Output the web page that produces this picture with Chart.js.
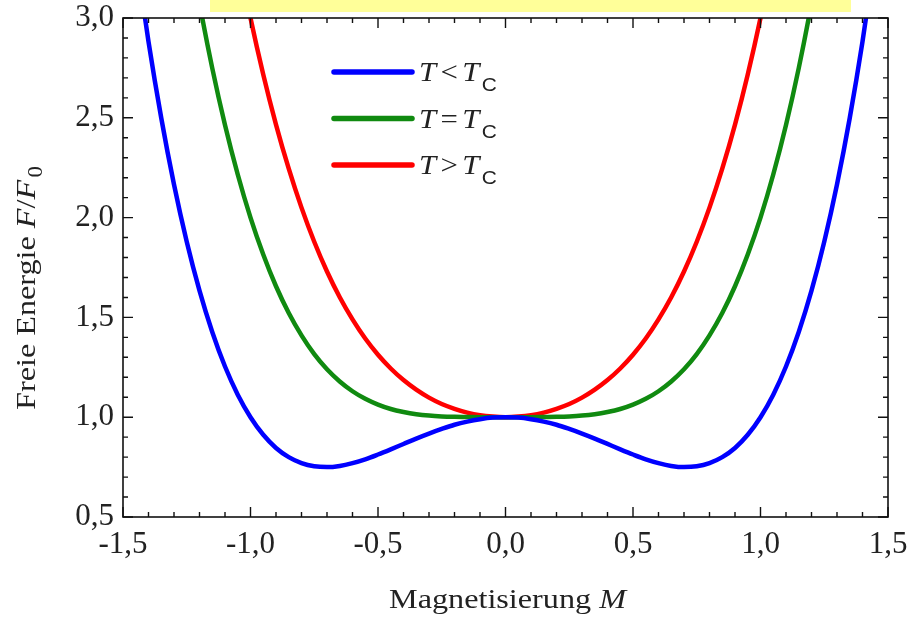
<!DOCTYPE html>
<html>
<head>
<meta charset="utf-8">
<script src="https://cdn.jsdelivr.net/npm/chart.js@4.4.1/dist/chart.umd.min.js"></script>
<style>
  body { margin: 0; background: #fff; }
  #wrap { position: relative; width: 917px; height: 618px; }
  #band { position: absolute; left: 210px; top: 0; width: 641px; height: 12px; background: #ffff99; }
</style>
</head>
<body>
<div id="wrap">
  <canvas id="freeEnergyChart" width="917" height="618"></canvas>
  <div id="band"></div>
</div>
<script>
// Magnetisierung M (x values)
const mValues = [-1.45,-1.40,-1.35,-1.30,-1.25,-1.20,-1.15,-1.10,-1.05,-1.00,-0.95,-0.90,-0.85,-0.80,-0.75,-0.70,-0.65,-0.60,-0.55,-0.50,-0.45,-0.40,-0.35,-0.30,-0.25,-0.20,-0.15,-0.10,-0.05,0.00,
                 0.05,0.10,0.15,0.20,0.25,0.30,0.35,0.40,0.45,0.50,0.55,0.60,0.65,0.70,0.75,0.80,0.85,0.90,0.95,1.00,1.05,1.10,1.15,1.20,1.25,1.30,1.35,1.40,1.45];

// F/F0 for T < Tc
const belowTc = [3.318,2.882,2.499,2.166,1.879,1.634,1.427,1.254,1.113,1.000,0.912,0.846,0.800,0.770,0.754,0.750,0.756,0.770,0.789,0.813,0.839,0.866,0.893,0.918,0.941,0.962,0.978,0.990,0.998,1.000,
                 0.998,0.990,0.978,0.962,0.941,0.918,0.893,0.866,0.839,0.813,0.789,0.770,0.756,0.750,0.754,0.770,0.800,0.846,0.912,1.000,1.113,1.254,1.427,1.634,1.879,2.166,2.499,2.882,3.318];

// F/F0 for T = Tc
const atTc = [null,null,null,null,3.441,3.074,2.749,2.464,2.216,2.000,1.815,1.656,1.522,1.410,1.316,1.240,1.179,1.130,1.092,1.063,1.041,1.026,1.015,1.008,1.004,1.002,1.001,1.000,1.000,1.000,
              1.000,1.000,1.001,1.002,1.004,1.008,1.015,1.026,1.041,1.063,1.092,1.130,1.179,1.240,1.316,1.410,1.522,1.656,1.815,2.000,2.216,2.464,2.749,3.074,3.441,null,null,null,null];

// F/F0 for T > Tc
const aboveTc = [null,null,null,null,null,null,null,null,3.318,3.000,2.717,2.466,2.245,2.050,1.879,1.730,1.601,1.490,1.394,1.313,1.244,1.186,1.138,1.098,1.066,1.042,1.023,1.010,1.003,1.000,
                 1.003,1.010,1.023,1.042,1.066,1.098,1.138,1.186,1.244,1.313,1.394,1.490,1.601,1.730,1.879,2.050,2.245,2.466,2.717,3.000,3.318,null,null,null,null,null,null,null,null];

const legendRelations = ["<", "=", ">"];
const seriesColors = ["#0000ff", "#108a10", "#ff0000"];
const xTickValues = [-1.5, -1.0, -0.5, 0.0, 0.5, 1.0, 1.5];
const yTickValues = [0.5, 1.0, 1.5, 2.0, 2.5, 3.0];

const serif = '"Liberation Serif", "Times New Roman", serif';
const sans = '"Liberation Sans", Arial, sans-serif';

function toPoints(ys) {
    return mValues.map(function (m, i) { return { x: m, y: ys[i] }; });
}

function comma(v) {
    return Number(v).toFixed(1).replace(".", ",");
}

function runsWidth(ctx, runs) {
    let w = 0;
    runs.forEach(function (r) {
        ctx.font = r.font;
        w += ctx.measureText(r.t).width + (r.gap || 0);
    });
    return w;
}

// draw text pieces with mixed fonts, stretched horizontally by sx
function drawRuns(ctx, runs, x, y, sx) {
    ctx.save();
    ctx.translate(x, y);
    ctx.scale(sx, 1);
    let cx = 0;
    runs.forEach(function (r) {
        ctx.font = r.font;
        ctx.fillText(r.t, cx, r.dy || 0);
        cx += ctx.measureText(r.t).width + (r.gap || 0);
    });
    ctx.restore();
}

const framePlugin = {
    id: "frame",
    afterDraw(chart) {
        const ctx = chart.ctx;
        const a = chart.chartArea;
        const xs = chart.scales.x;
        const ys = chart.scales.y;
        ctx.save();
        ctx.strokeStyle = "#111";
        ctx.lineWidth = 1.6;
        ctx.strokeRect(a.left, a.top, a.right - a.left, a.bottom - a.top);

        // inward ticks on all four sides
        ctx.lineWidth = 1.4;
        ctx.beginPath();
        for (let i = -15; i <= 15; i++) {
            const px = xs.getPixelForValue(i / 10);
            const len = (i % 5 === 0) ? 10 : 5;
            ctx.moveTo(px, a.bottom); ctx.lineTo(px, a.bottom - len);
            ctx.moveTo(px, a.top); ctx.lineTo(px, a.top + len);
        }
        for (let i = 5; i <= 30; i++) {
            const py = ys.getPixelForValue(i / 10);
            const len = (i % 5 === 0) ? 10 : 5;
            ctx.moveTo(a.left, py); ctx.lineTo(a.left + len, py);
            ctx.moveTo(a.right, py); ctx.lineTo(a.right - len, py);
        }
        ctx.stroke();

        ctx.fillStyle = "#222";
        ctx.textBaseline = "alphabetic";
        ctx.textAlign = "left";
        const stretch = 1.15;

        // x axis title
        const xRuns = [
            { t: "Magnetisierung ", font: "28px " + serif },
            { t: "M", font: "italic 28px " + serif }
        ];
        const cx = (a.left + a.right) / 2 + 2;
        drawRuns(ctx, xRuns, cx - runsWidth(ctx, xRuns) * stretch / 2, 608, stretch);

        // y axis title
        const yRuns = [
            { t: "Freie Energie ", font: "28px " + serif },
            { t: "F", font: "italic 28px " + serif },
            { t: "/", font: "28px " + serif },
            { t: "F", font: "italic 28px " + serif, gap: 2 },
            { t: "0", font: "20px " + serif, dy: 7 }
        ];
        ctx.save();
        ctx.translate(35, 288);
        ctx.rotate(-Math.PI / 2);
        drawRuns(ctx, yRuns, -runsWidth(ctx, yRuns) * stretch / 2, 0, stretch);
        ctx.restore();

        // legend
        chart.data.datasets.forEach(function (ds, i) {
            const ly = 72 + i * 46.5;
            ctx.strokeStyle = ds.borderColor;
            ctx.lineWidth = 5.5;
            ctx.lineCap = "round";
            ctx.beginPath();
            ctx.moveTo(334, ly);
            ctx.lineTo(412, ly);
            ctx.stroke();
            ctx.fillStyle = "#222";
            drawRuns(ctx, [
                { t: "T", font: "italic 28px " + serif, gap: 4 },
                { t: legendRelations[i], font: "28px " + serif, gap: 4 },
                { t: "T", font: "italic 28px " + serif, gap: 2 },
                { t: "C", font: "19px " + sans, dy: 10 }
            ], 419, ly + 9, 1.1);
        });
        ctx.restore();
    }
};

document.addEventListener("DOMContentLoaded", function () {
    const ctx = document.getElementById("freeEnergyChart").getContext("2d");
    const sets = [belowTc, atTc, aboveTc];
    new Chart(ctx, {
        type: "line",
        data: {
            datasets: sets.map(function (ys, i) {
                return {
                    label: "T " + legendRelations[i] + " Tc",
                    data: toPoints(ys),
                    borderColor: seriesColors[i],
                    borderWidth: 4.5,
                    pointRadius: 0,
                    fill: false,
                    cubicInterpolationMode: "monotone",
                    spanGaps: false
                };
            })
        },
        options: {
            responsive: false,
            animation: false,
            layout: { padding: { left: 0, top: 18, right: 29, bottom: 0 } },
            plugins: { legend: { display: false }, tooltip: { enabled: false } },
            scales: {
                x: {
                    type: "linear",
                    min: -1.5,
                    max: 1.5,
                    grid: { display: false, drawTicks: false },
                    border: { display: false },
                    afterBuildTicks: function (scale) {
                        scale.ticks = xTickValues.map(function (v) { return { value: v }; });
                    },
                    afterFit: function (scale) {
                        scale.height = 101;
                        scale.paddingLeft = 0;
                        scale.paddingRight = 0;
                    },
                    ticks: {
                        padding: 9,
                        maxRotation: 0,
                        autoSkip: false,
                        color: "#222",
                        font: { family: serif, size: 31 },
                        callback: comma
                    }
                },
                y: {
                    min: 0.5,
                    max: 3.0,
                    grid: { display: false, drawTicks: false },
                    border: { display: false },
                    afterBuildTicks: function (scale) {
                        scale.ticks = yTickValues.map(function (v) { return { value: v }; });
                    },
                    afterFit: function (scale) {
                        scale.width = 123;
                        scale.paddingTop = 0;
                        scale.paddingBottom = 0;
                    },
                    ticks: {
                        padding: 9,
                        autoSkip: false,
                        color: "#222",
                        font: { family: serif, size: 31 },
                        callback: comma
                    }
                }
            }
        },
        plugins: [framePlugin]
    });
});
</script>
</body>
</html>
